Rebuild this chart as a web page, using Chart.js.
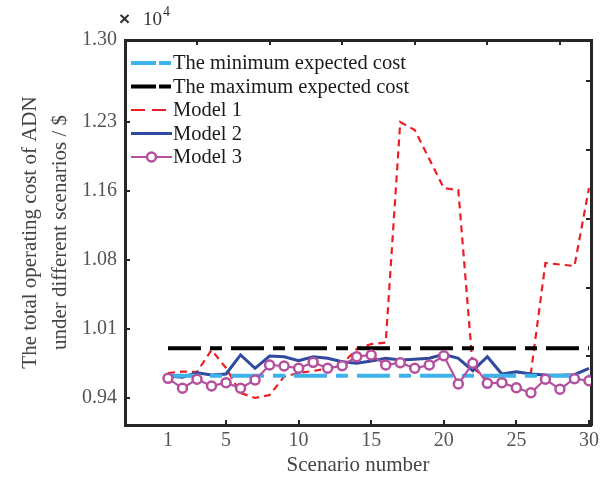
<!DOCTYPE html>
<html><head><meta charset="utf-8">
<script src="https://cdn.jsdelivr.net/npm/chart.js@4.4.0/dist/chart.umd.min.js"></script>
<style>html,body{margin:0;padding:0;background:#fff;}#wrap{width:616px;height:481px;}</style>
</head><body><div id="wrap"><canvas id="c" width="616" height="481"></canvas></div>
<script>
const scenarios = [1,2,3,4,5,6,7,8,9,10,11,12,13,14,15,16,17,18,19,20,21,22,23,24,25,26,27,28,29,30];
const minExpectedCost = [0.9630,0.9630,0.9630,0.9630,0.9630,0.9630,0.9630,0.9630,0.9630,0.9630,0.9630,0.9630,0.9630,0.9630,0.9630,0.9630,0.9630,0.9630,0.9630,0.9630,0.9630,0.9630,0.9630,0.9630,0.9630,0.9630,0.9630,0.9630,0.9630,0.9630];
const maxExpectedCost = [0.9915,0.9915,0.9915,0.9915,0.9915,0.9915,0.9915,0.9915,0.9915,0.9915,0.9915,0.9915,0.9915,0.9915,0.9915,0.9915,0.9915,0.9915,0.9915,0.9915,0.9915,0.9915,0.9915,0.9915,0.9915,0.9915,0.9915,0.9915,0.9915,0.9915];
const model1 = [0.9658,0.9673,0.9668,0.9898,0.9710,0.9449,0.9397,0.9428,0.9620,0.9658,0.9679,0.9705,0.9752,0.9908,0.9960,0.9976,1.2277,1.2193,1.1891,1.1588,1.1567,0.9710,0.9595,0.9637,0.9663,0.9658,1.0806,1.0790,1.0774,1.1588];
const model2 = [0.9626,0.9613,0.9661,0.9637,0.9647,0.9846,0.9707,0.9835,0.9828,0.9786,0.9828,0.9811,0.9776,0.9759,0.9783,0.9811,0.9793,0.9801,0.9811,0.9853,0.9811,0.9682,0.9828,0.9647,0.9671,0.9647,0.9637,0.9634,0.9640,0.9707];
const model3 = [0.9602,0.9498,0.9592,0.9522,0.9557,0.9498,0.9585,0.9741,0.9731,0.9707,0.9769,0.9707,0.9734,0.9828,0.9846,0.9741,0.9765,0.9707,0.9741,0.9838,0.9543,0.9759,0.9550,0.9557,0.9504,0.9452,0.9592,0.9488,0.9598,0.9577];
const xTickValues = [1,5,10,15,20,25,30];
const xTopTickValues = [3,8,13,18,23,28];
const yTickValues = [0.94,1.012,1.084,1.156,1.228,1.3133];
const yTickLabels = ['0.94','1.01','1.08','1.16','1.23','1.30'];
const yRightTickValues = [0.983,1.055,1.127,1.199,1.271];

const AX = '#262626';
const serif = '"Liberation Serif", "Times New Roman", serif';
function pts(arr){ return scenarios.map((s,i)=>({x:s,y:arr[i]})); }

const legendPlugin = {
  id:'insideLegend',
  afterDatasetsDraw(chart){
    const {ctx, chartArea} = chart;
    const x0 = chartArea.left + 6, len = 41, y0 = chartArea.top + 23, dy = 23.5;
    chart.data.datasets.forEach((ds,i)=>{
      const y = y0 + i*dy;
      ctx.save();
      ctx.strokeStyle = ds.borderColor; ctx.lineWidth = ds.borderWidth;
      ctx.setLineDash(ds.legendDash || ds.borderDash || []);
      ctx.beginPath(); ctx.moveTo(x0,y); ctx.lineTo(x0+len,y); ctx.stroke();
      if (ds.pointRadius>0){
        ctx.setLineDash([]); ctx.beginPath(); ctx.arc(x0+len/2,y,ds.pointRadius,0,2*Math.PI);
        ctx.fillStyle=ds.pointBackgroundColor; ctx.fill();
        ctx.lineWidth=ds.pointBorderWidth; ctx.strokeStyle=ds.pointBorderColor; ctx.stroke();
      }
      ctx.fillStyle='#1a1a1a'; ctx.font='20.5px '+serif; ctx.textBaseline='middle'; ctx.textAlign='left';
      ctx.fillText(ds.label, x0+len+1, y+1);
      ctx.restore();
    });
  }
};
const exponentPlugin = {
  id:'exponent',
  afterDraw(chart){
    const {ctx, chartArea} = chart;
    ctx.save();
    ctx.fillStyle = '#333';
    ctx.textBaseline = 'alphabetic'; ctx.textAlign='left';
    ctx.font = 'bold 19px "Liberation Sans", Arial, sans-serif';
    ctx.fillText('\u00d7', chartArea.left - 6, chartArea.top - 15);
    ctx.font = '19px ' + serif;
    ctx.fillText('10', chartArea.left + 18, chartArea.top - 15);
    ctx.font = '14px ' + serif;
    ctx.fillText('4', chartArea.left + 38, chartArea.top - 24);
    ctx.restore();
  }
};

const axisCommon = {
  grid:{drawOnChartArea:false, tickLength:-5, lineWidth:2, color:AX},
  border:{display:true, width:3, color:AX}
};

new Chart(document.getElementById('c'), {
  type:'line',
  data:{datasets:[
    {label:'The minimum expected cost', data:pts(minExpectedCost), borderColor:'#3DB3E9', borderWidth:4, borderDash:[33,9,12,9], legendDash:[25,3,12,3], pointRadius:0, order:1},
    {label:'The maximum expected cost', data:pts(maxExpectedCost), borderColor:'#000000', borderWidth:4, borderDash:[33,9,12,9], legendDash:[25,3,12,3], pointRadius:0, order:3},
    {label:'Model 1', data:pts(model1), borderColor:'#EE1D25', borderWidth:2.2, borderDash:[7,5], legendDash:[14,7], pointRadius:0, order:4},
    {label:'Model 2', data:pts(model2), borderColor:'#2F4A9E', borderWidth:3, pointRadius:0, order:2},
    {label:'Model 3', data:pts(model3), borderColor:'#B4509E', borderWidth:2.2, pointRadius:4.5, pointBorderWidth:2.5, pointBackgroundColor:'#ffffff', pointBorderColor:'#B4509E', order:0}
  ]},
  options:{
    responsive:false, animation:false, devicePixelRatio:1,
    layout:{padding:0},
    plugins:{legend:{display:false}, tooltip:{enabled:false}},
    elements:{line:{tension:0}},
    scales:{
      x:{type:'linear', position:'bottom', min:-1.96, max:30.14,
        afterBuildTicks:s=>{s.ticks = xTickValues.map(v=>({value:v}));},
        afterFit:s=>{s.height = 56;},
        grid:{drawOnChartArea:false, tickLength:-5, lineWidth:2, color:c=>(c.tick && c.tick.value===1)?'rgba(0,0,0,0)':AX},
        border:{display:true, width:3, color:AX},
        ticks:{autoSkip:false, maxRotation:0, padding:9, color:'#555', font:{family:serif, size:20}, callback:v=>String(v)},
        title:{display:true, text:'Scenario number', color:'#444', font:{family:serif, size:21}, padding:{top:0,bottom:3}}
      },
      x2:{type:'linear', position:'top', min:-1.96, max:30.14,
        afterBuildTicks:s=>{s.ticks = xTopTickValues.map(v=>({value:v}));},
        afterFit:s=>{s.height = 40;},
        ticks:{display:false}, ...axisCommon
      },
      y:{type:'linear', position:'left', min:0.9115, max:1.3133,
        afterBuildTicks:s=>{s.ticks = yTickValues.map(v=>({value:v}));},
        afterFit:s=>{s.width = 125;},
        grid:{drawOnChartArea:false, tickLength:-5, lineWidth:2, color:AX},
        border:{display:true, width:3, color:AX},
        ticks:{autoSkip:false, padding:13, color:'#555', font:{family:serif, size:20}, callback:(v,i)=>yTickLabels[i]},
        title:{display:true, text:['The total operating cost of ADN','under different scenarios / $'], color:'#444', font:{family:serif, size:21, lineHeight:1.45}, padding:{top:15,bottom:0}}
      },
      y2:{type:'linear', position:'right', min:0.9115, max:1.3133,
        afterBuildTicks:s=>{s.ticks = yRightTickValues.map(v=>({value:v}));},
        afterFit:s=>{s.width = 25;},
        ticks:{display:false}, ...axisCommon
      }
    }
  },
  plugins:[legendPlugin, exponentPlugin]
});
</script></body></html>
